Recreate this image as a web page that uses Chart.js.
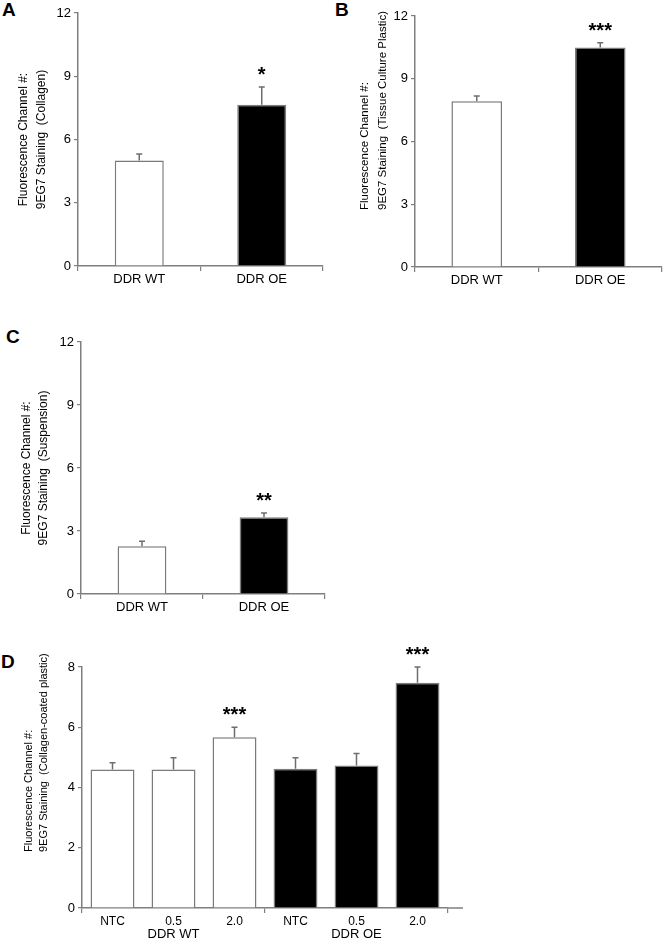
<!DOCTYPE html>
<html>
<head>
<meta charset="utf-8">
<script src="https://cdn.jsdelivr.net/npm/chart.js@4.4.0/dist/chart.umd.min.js"></script>
<style>
body { margin: 0; background: #fff; }
#wrap { position: relative; width: 664px; height: 942px; overflow: hidden; }
canvas { position: absolute; }
.letter { position: absolute; font: bold 19px "Liberation Sans", Arial, sans-serif; line-height: 1; color: #000; }
</style>
</head>
<body>
<div id="wrap">
  <div class="letter" style="left:2px;top:0px">A</div>
  <div class="letter" style="left:335px;top:0px">B</div>
  <div class="letter" style="left:6px;top:327px">C</div>
  <div class="letter" style="left:1px;top:652px">D</div>
  <canvas id="chart-a" width="332" height="292" style="left:0px;top:0px"></canvas>
  <canvas id="chart-b" width="332" height="293" style="left:332px;top:0px"></canvas>
  <canvas id="chart-c" width="332" height="295" style="left:0px;top:325px"></canvas>
  <canvas id="chart-d" width="480" height="297" style="left:0px;top:645px"></canvas>
</div>
<script>
// Panels A-C: two cell lines
var cellLines = ['DDR WT', 'DDR OE'];
var collagenMean = [5.0, 7.65];
var collagenErr = [0.31, 0.84];
var collagenSig = ['', '*'];
var plasticMean = [7.92, 10.49];
var plasticErr = [0.26, 0.23];
var plasticSig = ['', '***'];
var suspensionMean = [2.27, 3.65];
var suspensionErr = [0.24, 0.21];
var suspensionSig = ['', '**'];
var ticksABC = [0, 3, 6, 9, 12];

// Panel D: dose per cell line
var doseLabels = ['NTC', '0.5', '2.0', 'NTC', '0.5', '2.0'];
var doseGroups = ['DDR WT', 'DDR OE'];
var coatedMean = [4.60, 4.60, 5.67, 4.62, 4.73, 7.48];
var coatedErr = [0.22, 0.39, 0.33, 0.37, 0.40, 0.52];
var coatedSig = ['', '', '***', '', '', '***'];
var ticksD = [0, 2, 4, 6, 8];

var fontFamily = '"Liberation Sans", Arial, sans-serif';
var axisGray = '#7f7f7f';

var errorBars = {
    id: 'errorBars',
    afterDatasetsDraw: function (chart) {
        var ctx = chart.ctx;
        var ds = chart.data.datasets[0];
        var y = chart.scales.y;
        var meta = chart.getDatasetMeta(0);
        ctx.save();
        meta.data.forEach(function (bar, i) {
            var base = y.getPixelForValue(ds.data[i]);
            var top = y.getPixelForValue(ds.data[i] + ds.errors[i]);
            ctx.strokeStyle = '#6e6e6e';
            ctx.lineWidth = 1.5;
            ctx.beginPath();
            ctx.moveTo(bar.x, base);
            ctx.lineTo(bar.x, top);
            ctx.moveTo(bar.x - 3, top);
            ctx.lineTo(bar.x + 3, top);
            ctx.stroke();
            if (ds.stars[i]) {
                ctx.fillStyle = '#000';
                ctx.font = 'bold 20px ' + fontFamily;
                ctx.textAlign = 'center';
                ctx.textBaseline = 'alphabetic';
                ctx.fillText(ds.stars[i], bar.x, top - 6);
            }
        });
        // x axis line runs a little past the last tick in panel D
        if (ds.axisExtend) {
            var a = chart.chartArea;
            ctx.strokeStyle = axisGray;
            ctx.lineWidth = 1.5;
            ctx.beginPath();
            ctx.moveTo(a.right, a.bottom);
            ctx.lineTo(a.right + ds.axisExtend, a.bottom);
            ctx.stroke();
        }
        ctx.restore();
    }
};

// Rotated two-line y title. 'center' centres each line on the axis,
// otherwise both lines start the same distance above the x axis.
function yTitlePlugin(t) {
    return {
        id: 'yTitle',
        afterDraw: function (chart) {
            var ctx = chart.ctx;
            var a = chart.chartArea;
            ctx.save();
            ctx.fillStyle = '#000';
            ctx.font = t.size + 'px ' + fontFamily;
            ctx.textBaseline = 'middle';
            t.lines.forEach(function (line, i) {
                ctx.save();
                if (t.start === 'center') {
                    ctx.translate(t.x[i], (a.top + a.bottom) / 2);
                    ctx.textAlign = 'center';
                } else {
                    ctx.translate(t.x[i], a.bottom - t.start);
                    ctx.textAlign = 'left';
                }
                ctx.rotate(-Math.PI / 2);
                ctx.fillText(line, 0, 0);
                ctx.restore();
            });
            ctx.restore();
        }
    };
}

function BuildChart(element, labels, values, errors, stars, fills, cfg) {
    var ctx = document.getElementById(element).getContext('2d');
    var scales = {
        x: {
            type: 'category',
            offset: true,
            grid: {
                offset: true,
                drawOnChartArea: false,
                tickLength: 5,
                lineWidth: 1.2,
                color: cfg.tickColor || axisGray
            },
            border: { color: axisGray, width: 1.5 },
            ticks: {
                color: '#000',
                font: { family: fontFamily, size: cfg.xFont },
                padding: 1,
                maxRotation: 0,
                autoSkip: false
            },
            afterFit: function (s) { s.height = cfg.xHeight; }
        },
        y: {
            min: 0,
            max: cfg.yTicks[cfg.yTicks.length - 1],
            afterBuildTicks: function (s) {
                s.ticks = cfg.yTicks.map(function (v) { return { value: v }; });
            },
            grid: { drawOnChartArea: false, tickLength: 4, lineWidth: 1.2, color: axisGray },
            border: { color: axisGray, width: 1.5 },
            ticks: {
                color: '#000',
                font: { family: fontFamily, size: 13 },
                padding: 3
            },
            afterFit: function (s) { s.width = cfg.yWidth; }
        }
    };
    if (cfg.groups) {
        scales.x2 = {
            type: 'category',
            position: 'bottom',
            labels: cfg.groups,
            offset: true,
            grid: { display: false, drawTicks: false },
            border: { display: false },
            ticks: {
                color: '#000',
                font: { family: fontFamily, size: 13 },
                padding: 0,
                maxRotation: 0
            },
            afterFit: function (s) { s.height = cfg.groupHeight; }
        };
    }
    var myChart = new Chart(ctx, {
        type: 'bar',
        data: {
            labels: labels,
            datasets: [{
                data: values,
                errors: errors,
                stars: stars,
                axisExtend: cfg.axisExtend || 0,
                backgroundColor: fills,
                borderColor: '#7a7a7a',
                borderWidth: 1.5,
                barPercentage: cfg.barPct,
                categoryPercentage: 1
            }]
        },
        options: {
            responsive: false,
            animation: false,
            layout: { padding: { left: 0, top: cfg.padTop, right: cfg.padRight, bottom: 0 } },
            plugins: { legend: { display: false }, tooltip: { enabled: false } },
            scales: scales
        },
        plugins: [errorBars, yTitlePlugin(cfg.title)]
    });
    return myChart;
}

var twoFills = ['#ffffff', '#000000'];
var sixFills = ['#ffffff', '#ffffff', '#ffffff', '#000000', '#000000', '#000000'];

BuildChart('chart-a', cellLines, collagenMean, collagenErr, collagenSig, twoFills, {
    yTicks: ticksABC,
    title: { lines: ['Fluorescence Channel #:', '9EG7 Staining  (Collagen)'], size: 12, x: [24, 42], start: 'center' },
    yWidth: 78, padTop: 13, padRight: 9, xHeight: 26, xFont: 13, barPct: 0.4
});
BuildChart('chart-b', cellLines, plasticMean, plasticErr, plasticSig, twoFills, {
    yTicks: ticksABC,
    title: { lines: ['Fluorescence Channel #:', '9EG7 Staining  (Tissue Culture Plastic)'], size: 11.5, x: [33, 51], start: 57 },
    yWidth: 83, padTop: 16, padRight: 2, xHeight: 26, xFont: 13, barPct: 0.41
});
BuildChart('chart-c', cellLines, suspensionMean, suspensionErr, suspensionSig, twoFills, {
    yTicks: ticksABC,
    title: { lines: ['Fluorescence Channel #:', '9EG7 Staining  (Suspension)'], size: 12, x: [27, 44], start: 'center' },
    yWidth: 81, padTop: 17, padRight: 7, xHeight: 26, xFont: 13, barPct: 0.4
});
BuildChart('chart-d', doseLabels, coatedMean, coatedErr, coatedSig, sixFills, {
    yTicks: ticksD,
    title: { lines: ['Fluorescence Channel #:', '9EG7 Staining  (Collagen-coated plastic)'], size: 11, x: [29, 44], start: 56 },
    yWidth: 82, padTop: 22, padRight: 32, xHeight: 19, xFont: 12, barPct: 0.72,
    groups: doseGroups, groupHeight: 15, axisExtend: 15,
    tickColor: function (c) {
        return (c.index === undefined || c.index % 3 === 0) ? axisGray : 'rgba(0,0,0,0)';
    }
});
</script>
</body>
</html>
